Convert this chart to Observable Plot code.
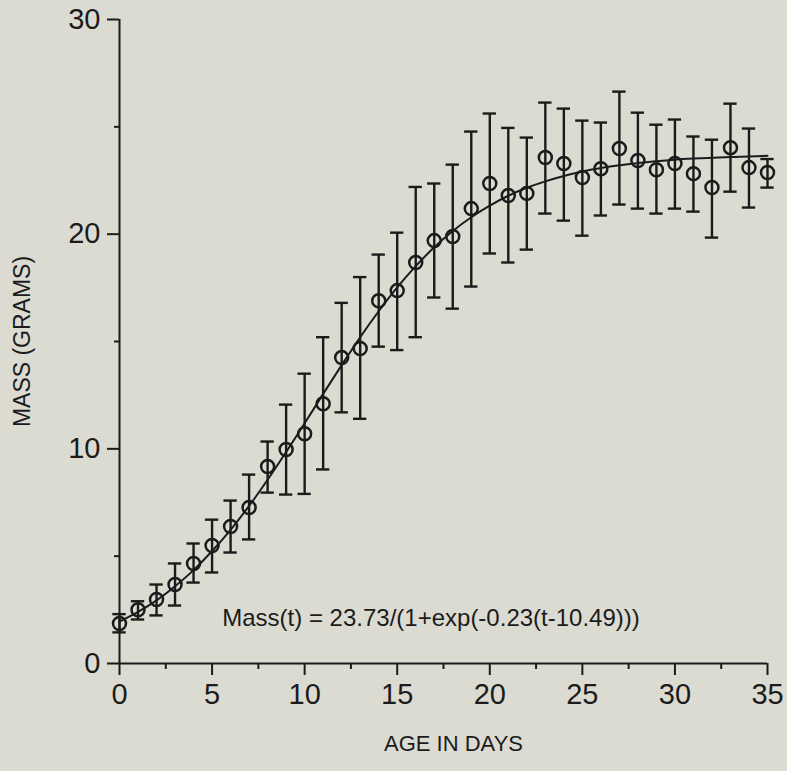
<!DOCTYPE html>
<html>
<head>
<meta charset="utf-8">
<script src="https://cdn.jsdelivr.net/npm/d3@7"></script>
<script src="https://cdn.jsdelivr.net/npm/@observablehq/plot@0.6"></script>
<style>
  html, body { margin: 0; padding: 0; background: #dcdbd2; }
  #chart svg { display: block; }
</style>
</head>
<body>
<div id="chart"></div>
<script>
// ---- data ----
const days = d3.range(0, 36);
const meanMass = [1.86, 2.5, 2.98, 3.68, 4.66, 5.5, 6.38, 7.27, 9.18, 9.97, 10.7, 12.1, 14.25, 14.67, 16.9, 17.37, 18.68, 19.7, 19.89, 21.19, 22.36, 21.8, 21.9, 23.57, 23.29, 22.64, 23.05, 23.99, 23.43, 23.0, 23.29, 22.82, 22.17, 24.03, 23.1, 22.87];
const upperMass = [2.3, 2.9, 3.68, 4.66, 5.59, 6.7, 7.59, 8.8, 10.34, 12.06, 13.5, 15.2, 16.8, 18.0, 19.05, 20.07, 22.2, 22.36, 23.24, 24.78, 25.62, 24.95, 24.5, 26.13, 25.85, 25.29, 25.2, 26.64, 25.66, 25.1, 25.34, 24.55, 24.4, 26.08, 24.92, 23.5];
const lowerMass = [1.45, 2.05, 2.24, 2.7, 3.77, 4.24, 5.17, 5.78, 7.96, 7.87, 7.9, 9.04, 11.7, 11.4, 14.76, 14.6, 15.2, 17.05, 16.53, 17.56, 19.1, 18.68, 19.28, 20.96, 20.63, 19.93, 20.87, 21.38, 21.19, 20.96, 21.19, 21.05, 19.84, 21.98, 21.24, 22.17];
// fitted curve values read at each day
const fitMass = [1.95, 2.40, 2.94, 3.60, 4.35, 5.24, 6.23, 7.34, 8.56, 9.85, 11.19, 12.56, 13.90, 15.20, 16.41, 17.52, 18.51, 19.39, 20.15, 20.79, 21.33, 21.79, 22.16, 22.46, 22.71, 22.92, 23.08, 23.21, 23.31, 23.40, 23.47, 23.52, 23.56, 23.60, 23.62, 23.65];

const xMajorTicks = [0, 5, 10, 15, 20, 25, 30, 35];
const xMinorTicks = [2.5, 7.5, 12.5, 17.5, 22.5, 27.5, 32.5];
const yMajorTicks = [0, 10, 20, 30];
const yMinorTicks = [5, 15, 25];

const equationText = "Mass(t) = 23.73/(1+exp(-0.23(t-10.49)))";
const equationAt = {day: 5.55, mass: 2.1};
const xTitle = "AGE IN DAYS";
const yTitle = "MASS (GRAMS)";

// ---- build ----
const ink = "#1b1b1b";
const capHalf = 0.36; // half-width of error-bar caps, in days
const points = days.map((d, i) => ({day: d, mean: meanMass[i], hi: upperMass[i], lo: lowerMass[i]}));
const fit = days.map((d, i) => ({day: d, mass: fitMass[i]}));

const chart = Plot.plot({
  width: 787,
  height: 771,
  marginLeft: 119,
  marginRight: 20,
  marginTop: 19,
  marginBottom: 108,
  style: {background: "#dcdbd2", color: ink, fontFamily: "'Liberation Sans', Arial, Helvetica, sans-serif"},
  x: {domain: [0, 35]},
  y: {domain: [0, 30]},
  marks: [
    Plot.ruleX([0], {stroke: ink, strokeWidth: 2}),
    Plot.ruleY([0], {stroke: ink, strokeWidth: 2}),
    Plot.axisY({ticks: yMajorTicks, tickSize: 12, tickPadding: 7, fontSize: 29, label: null, stroke: ink, strokeWidth: 2, tickFormat: d => String(d)}),
    Plot.axisY({ticks: yMinorTicks, tickSize: 5, label: null, stroke: ink, strokeWidth: 2, tickFormat: () => ""}),
    Plot.axisX({ticks: xMajorTicks, tickSize: 12, tickPadding: 8, fontSize: 29, label: null, stroke: ink, strokeWidth: 2, tickFormat: d => String(d)}),
    Plot.axisX({ticks: xMinorTicks, tickSize: 6, label: null, stroke: ink, strokeWidth: 2, tickFormat: () => ""}),
    Plot.line(fit, {x: "day", y: "mass", curve: "monotone-x", stroke: ink, strokeWidth: 2}),
    Plot.ruleX(points, {x: "day", y1: "lo", y2: "hi", stroke: ink, strokeWidth: 2.4}),
    Plot.ruleY(points, {y: "hi", x1: d => d.day - capHalf, x2: d => d.day + capHalf, stroke: ink, strokeWidth: 2.4}),
    Plot.ruleY(points, {y: "lo", x1: d => d.day - capHalf, x2: d => d.day + capHalf, stroke: ink, strokeWidth: 2.4}),
    Plot.dot(points, {x: "day", y: "mean", r: 6.5, stroke: ink, strokeWidth: 2.5, fill: "none"}),
    Plot.text([equationText], {x: equationAt.day, y: equationAt.mass, text: d => d, textAnchor: "start", lineAnchor: "middle", fontSize: 24, fill: ink}),
    Plot.text([yTitle], {frameAnchor: "left", dx: -97, rotate: -90, textAnchor: "middle", lineAnchor: "middle", text: d => d, fontSize: 23, fill: ink}),
    Plot.text([xTitle], {frameAnchor: "bottom", dy: 87, dx: 10, text: d => d, fontSize: 22, fill: ink})
  ]
});
document.getElementById("chart").appendChild(chart);
</script>
</body>
</html>
